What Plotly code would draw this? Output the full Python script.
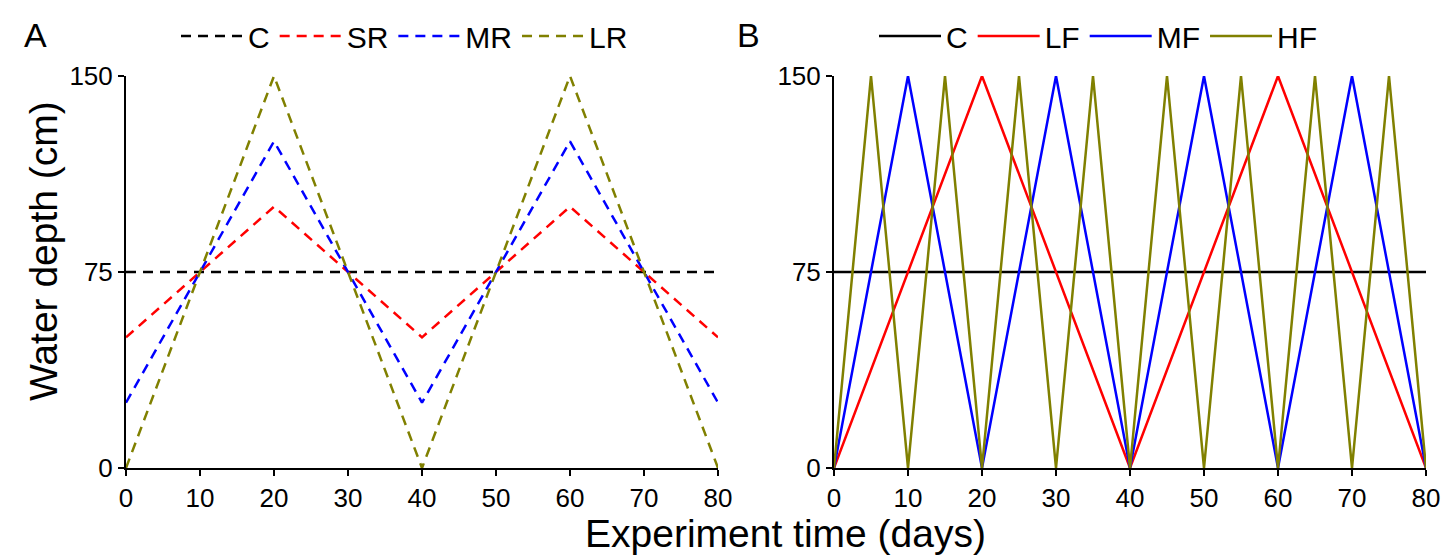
import plotly.graph_objects as go

# ---- data ----
days_a = [0, 20, 40, 60, 80]
c_a = [75, 75, 75, 75, 75]
sr = [50, 100, 50, 100, 50]
mr = [25, 125, 25, 125, 25]
lr = [0, 150, 0, 150, 0]

days_c = [0, 80]
c_b = [75, 75]
days_lf = [0, 20, 40, 60, 80]
lf = [0, 150, 0, 150, 0]
days_mf = [0, 10, 20, 30, 40, 50, 60, 70, 80]
mf = [0, 150, 0, 150, 0, 150, 0, 150, 0]
days_hf = [0, 5, 10, 15, 20, 25, 30, 35, 40, 45, 50, 55, 60, 65, 70, 75, 80]
hf = [0, 150, 0, 150, 0, 150, 0, 150, 0, 150, 0, 150, 0, 150, 0, 150, 0]

x_ticks = [0, 10, 20, 30, 40, 50, 60, 70, 80]
y_ticks = [0, 75, 150]

BLACK = "#000000"
RED = "#ff0000"
BLUE = "#0000ff"
OLIVE = "#808000"
FONT = "Liberation Sans, Arial, sans-serif"
DASH = "10px,7px"
LW = 2.5

fig = go.Figure()

for name, y, col in [("C", c_a, BLACK), ("SR", sr, RED), ("MR", mr, BLUE), ("LR", lr, OLIVE)]:
    fig.add_trace(go.Scatter(x=days_a, y=y, mode="lines", name=name,
                             line=dict(color=col, width=LW, dash=DASH),
                             xaxis="x", yaxis="y", legend="legend", cliponaxis=False))

for name, xs, y, col in [("C", days_c, c_b, BLACK), ("LF", days_lf, lf, RED),
                         ("MF", days_mf, mf, BLUE), ("HF", days_hf, hf, OLIVE)]:
    fig.add_trace(go.Scatter(x=xs, y=y, mode="lines", name=name,
                             line=dict(color=col, width=LW),
                             xaxis="x2", yaxis="y2", legend="legend2", cliponaxis=False))

W, H = 1452, 556
ax_common = dict(range=[0, 80], tickvals=x_ticks, ticks="outside", ticklen=6, tickwidth=2,
                 tickcolor=BLACK, showline=True, linecolor=BLACK, linewidth=2,
                 showgrid=False, zeroline=False, automargin=False,
                 tickfont=dict(size=26, color=BLACK, family=FONT))
ay_common = dict(range=[0, 150], tickvals=y_ticks, ticks="outside", ticklen=6, tickwidth=2,
                 tickcolor=BLACK, showline=True, linecolor=BLACK, linewidth=2,
                 showgrid=False, zeroline=False, automargin=False,
                 tickfont=dict(size=26, color=BLACK, family=FONT))

y_dom = [96 / H, 488 / H]
leg_common = dict(orientation="h", font=dict(size=30, color=BLACK, family=FONT),
                  bgcolor="rgba(0,0,0,0)", yanchor="middle", xanchor="left",
                  itemwidth=62, tracegroupgap=0)

fig.update_layout(
    width=W, height=H,
    margin=dict(l=0, r=0, t=0, b=0, autoexpand=False),
    paper_bgcolor="white", plot_bgcolor="white",
    font=dict(family=FONT, color=BLACK),
    xaxis=dict(domain=[118 / W, 710 / W], anchor="y", **ax_common),
    yaxis=dict(domain=y_dom, anchor="x", **ay_common),
    xaxis2=dict(domain=[826 / W, 1418 / W], anchor="y2", **ax_common),
    yaxis2=dict(domain=y_dom, anchor="x2", **ay_common),
    legend=dict(x=168 / W, y=(H - 28) / H, **leg_common),
    legend2=dict(x=866 / W, y=(H - 28) / H, **leg_common),
    showlegend=True,
    annotations=[
        dict(text="A", x=14 / W, y=(H - 27) / H, xref="paper", yref="paper", showarrow=False,
             xanchor="left", yanchor="middle", font=dict(size=34, family=FONT, color=BLACK)),
        dict(text="B", x=727 / W, y=(H - 27) / H, xref="paper", yref="paper", showarrow=False,
             xanchor="left", yanchor="middle", font=dict(size=34, family=FONT, color=BLACK)),
        dict(text="Water depth (cm)", x=36 / W, y=(H - 243) / H, xref="paper", yref="paper",
             showarrow=False, textangle=-90, xanchor="center", yanchor="middle",
             font=dict(size=39, family=FONT, color=BLACK)),
        dict(text="Experiment time (days)", x=777 / W, y=(H - 525) / H, xref="paper", yref="paper",
             showarrow=False, xanchor="center", yanchor="middle",
             font=dict(size=39, family=FONT, color=BLACK)),
    ],
)

fig.write_html("out.html")
